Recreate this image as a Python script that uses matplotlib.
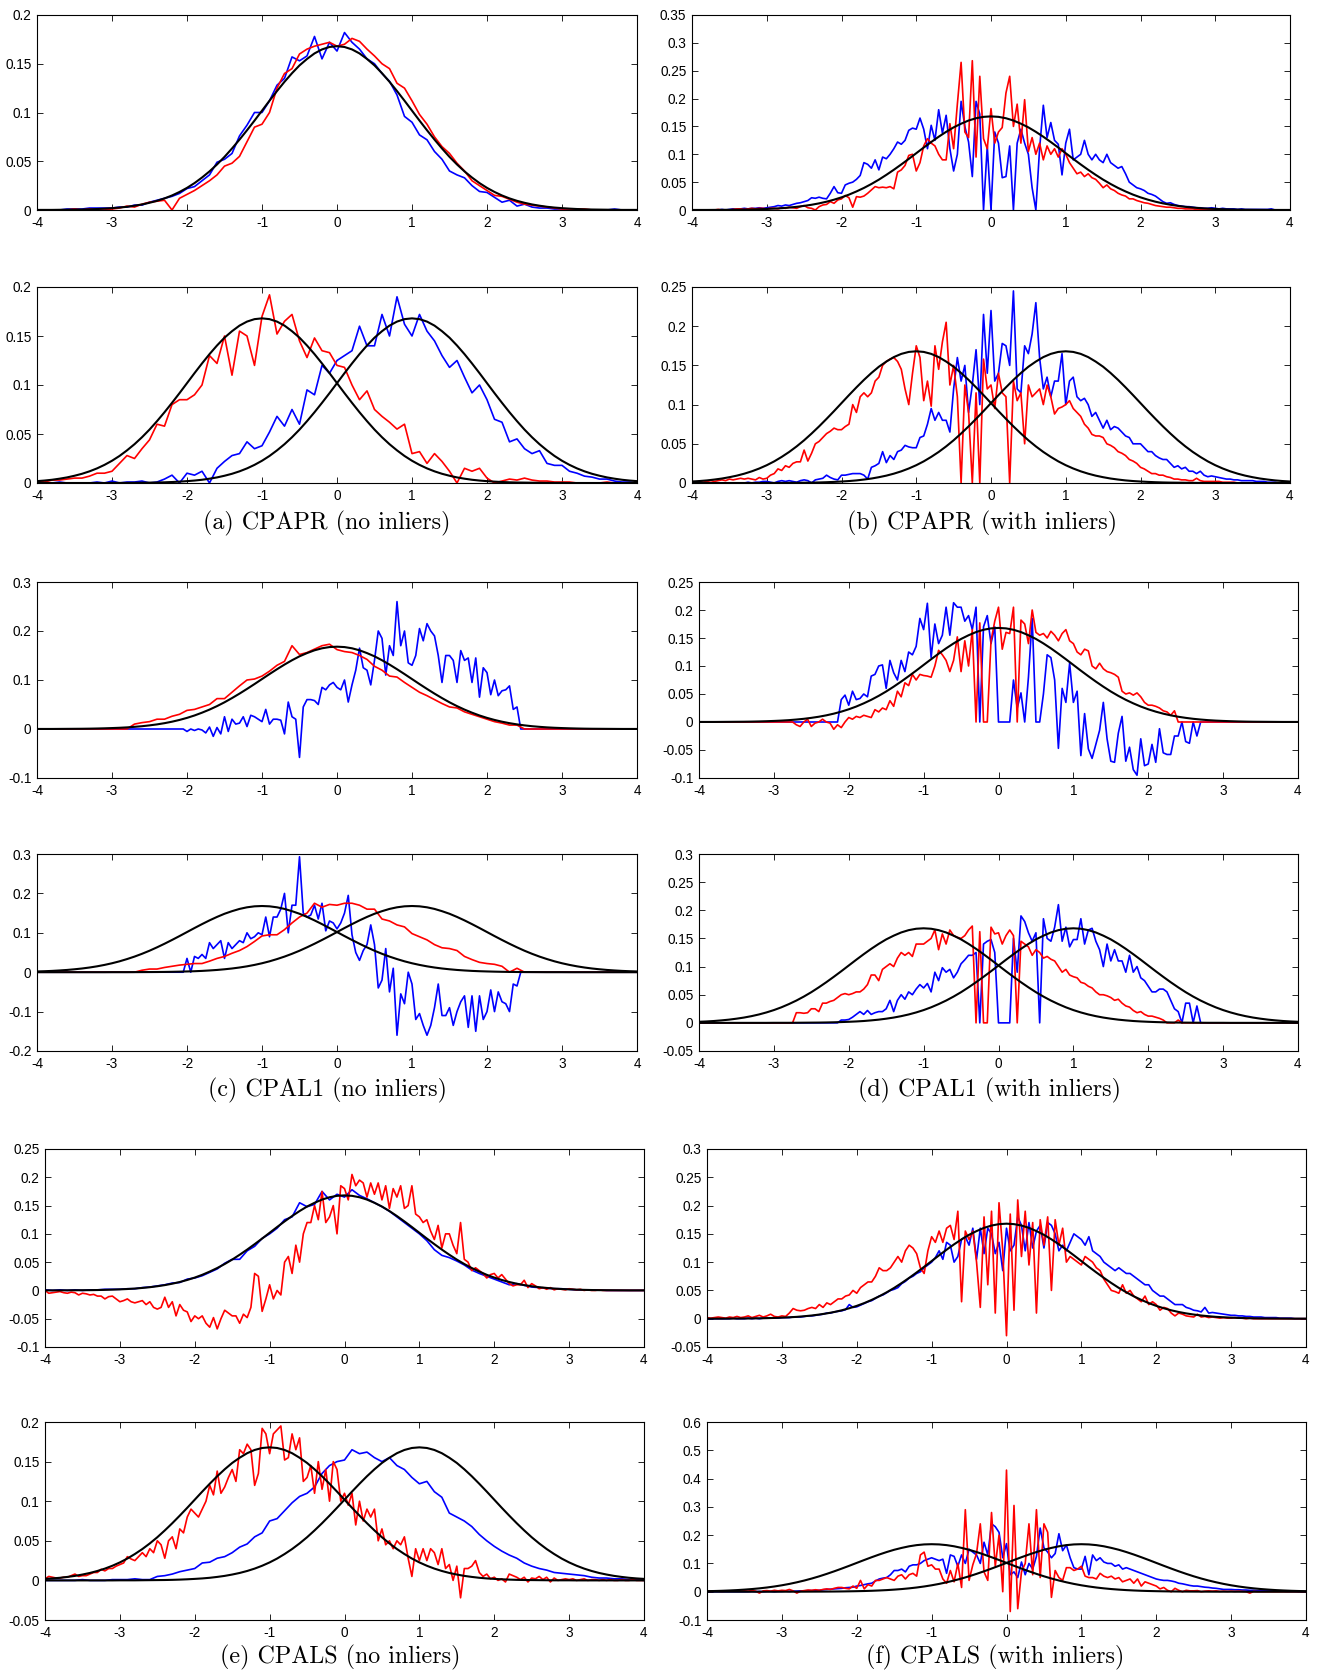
import numpy as np
import matplotlib
matplotlib.use("Agg")
import matplotlib.pyplot as plt

plt.rcParams["axes.unicode_minus"] = False
plt.rcParams["font.family"] = ["Liberation Sans", "DejaVu Sans"]

# ---------------- reference (true) profiles, x = -4..4 step 0.1 ----------------
REF_MID = [0.0001, 0.0001, 0.0001, 0.0002, 0.0003, 0.0004, 0.0005, 0.0007, 0.001, 0.0014,
           0.0019, 0.0025, 0.0033, 0.0044, 0.0057, 0.0074, 0.0094, 0.0119, 0.0149, 0.0185,
           0.0227, 0.0276, 0.0333, 0.0396, 0.0467, 0.0545, 0.0631, 0.0722, 0.0818, 0.0917,
           0.1019, 0.1121, 0.122, 0.1315, 0.1403, 0.1483, 0.1549, 0.1606, 0.1647, 0.1672,
           0.168, 0.1672, 0.1647, 0.1606, 0.1549, 0.1483, 0.1403, 0.1315, 0.122, 0.1121,
           0.1019, 0.0917, 0.0818, 0.0722, 0.0631, 0.0545, 0.0467, 0.0396, 0.0333, 0.0276,
           0.0227, 0.0185, 0.0149, 0.0119, 0.0094, 0.0074, 0.0057, 0.0044, 0.0033, 0.0025,
           0.0019, 0.0014, 0.001, 0.0007, 0.0005, 0.0004, 0.0003, 0.0002, 0.0001, 0.0001, 0.0001]
REF_LEFT = [0.0019, 0.0025, 0.0033, 0.0044, 0.0057, 0.0074, 0.0094, 0.0119, 0.0149, 0.0185,
            0.0227, 0.0276, 0.0333, 0.0396, 0.0467, 0.0545, 0.0631, 0.0722, 0.0818, 0.0917,
            0.1019, 0.1121, 0.122, 0.1315, 0.1403, 0.1483, 0.1549, 0.1606, 0.1647, 0.1672,
            0.168, 0.1672, 0.1647, 0.1606, 0.1549, 0.1483, 0.1403, 0.1315, 0.122, 0.1121,
            0.1019, 0.0917, 0.0818, 0.0722, 0.0631, 0.0545, 0.0467, 0.0396, 0.0333, 0.0276,
            0.0227, 0.0185, 0.0149, 0.0119, 0.0094, 0.0074, 0.0057, 0.0044, 0.0033, 0.0025,
            0.0019, 0.0014, 0.001, 0.0007, 0.0005, 0.0004, 0.0003, 0.0002, 0.0001, 0.0001,
            0.0001, 0, 0, 0, 0, 0, 0, 0, 0, 0, 0]
REF_RIGHT = [0, 0, 0, 0, 0, 0, 0, 0, 0, 0,
             0.0001, 0.0001, 0.0001, 0.0002, 0.0003, 0.0004, 0.0005, 0.0007, 0.001, 0.0014,
             0.0019, 0.0025, 0.0033, 0.0044, 0.0057, 0.0074, 0.0094, 0.0119, 0.0149, 0.0185,
             0.0227, 0.0276, 0.0333, 0.0396, 0.0467, 0.0545, 0.0631, 0.0722, 0.0818, 0.0917,
             0.1019, 0.1121, 0.122, 0.1315, 0.1403, 0.1483, 0.1549, 0.1606, 0.1647, 0.1672,
             0.168, 0.1672, 0.1647, 0.1606, 0.1549, 0.1483, 0.1403, 0.1315, 0.122, 0.1121,
             0.1019, 0.0917, 0.0818, 0.0722, 0.0631, 0.0545, 0.0467, 0.0396, 0.0333, 0.0276,
             0.0227, 0.0185, 0.0149, 0.0119, 0.0094, 0.0074, 0.0057, 0.0044, 0.0033, 0.0025, 0.0019]

# ---------------- (a) CPAPR, no inliers ----------------
A1_BLUE = [0, 0, 0, 0, 0.001, 0.001, 0.001, 0.002, 0.002, 0.002,
           0.002, 0.003, 0.003, 0.005, 0.005, 0.008, 0.010, 0.012, 0.014, 0.017,
           0.022, 0.024, 0.030, 0.036, 0.049, 0.052, 0.058, 0.076, 0.087, 0.100,
           0.100, 0.112, 0.128, 0.135, 0.157, 0.153, 0.158, 0.178, 0.155, 0.172,
           0.163, 0.182, 0.172, 0.165, 0.155, 0.150, 0.140, 0.132, 0.118, 0.096,
           0.090, 0.077, 0.072, 0.060, 0.052, 0.040, 0.036, 0.033, 0.025, 0.019,
           0.018, 0.013, 0.008, 0.010, 0.004, 0.006, 0.003, 0.002, 0.002, 0.001,
           0.001, 0, 0, 0, 0, 0, 0, 0.001, 0, 0, 0]
A1_RED = [0, 0, 0, 0, 0, 0.001, 0, 0.001, 0, 0,
          0.001, 0.002, 0.004, 0.003, 0.006, 0.008, 0.009, 0.010, 0.0, 0.012,
          0.016, 0.020, 0.025, 0.030, 0.036, 0.045, 0.048, 0.055, 0.070, 0.085,
          0.088, 0.100, 0.125, 0.140, 0.145, 0.160, 0.165, 0.168, 0.170, 0.172,
          0.168, 0.170, 0.176, 0.173, 0.165, 0.158, 0.150, 0.145, 0.130, 0.125,
          0.112, 0.098, 0.088, 0.075, 0.065, 0.058, 0.048, 0.040, 0.030, 0.025,
          0.020, 0.015, 0.014, 0.011, 0.008, 0.006, 0.005, 0.004, 0.003, 0.002,
          0.001, 0.001, 0.001, 0.001, 0, 0, 0, 0, 0, 0, 0]
A3_RED = [0.002, 0.001, 0.003, 0.003, 0.004, 0.005, 0.005, 0.007, 0.010, 0.010,
          0.012, 0.020, 0.028, 0.025, 0.035, 0.044, 0.060, 0.058, 0.080, 0.085,
          0.085, 0.090, 0.100, 0.130, 0.122, 0.150, 0.110, 0.155, 0.150, 0.120,
          0.170, 0.192, 0.152, 0.165, 0.172, 0.145, 0.128, 0.148, 0.135, 0.133,
          0.120, 0.118, 0.100, 0.085, 0.094, 0.075, 0.068, 0.062, 0.055, 0.060,
          0.030, 0.032, 0.020, 0.030, 0.022, 0.012, 0.0, 0.015, 0.012, 0.015,
          0.005, 0.0, 0.002, 0.004, 0.003, 0.005, 0.003, 0.002, 0.002, 0.001,
          0.001, 0.001, 0, 0, 0, 0, 0.001, 0, 0, 0, 0]
A3_BLUE = [0, 0, 0, 0.001, 0, 0, 0, 0, 0.001, 0,
           0.002, 0, 0.001, 0.001, 0.002, 0, 0.001, 0.004, 0.008, 0.0,
           0.010, 0.008, 0.012, 0.0, 0.015, 0.022, 0.028, 0.030, 0.042, 0.035,
           0.038, 0.052, 0.068, 0.058, 0.075, 0.060, 0.095, 0.090, 0.120, 0.112,
           0.125, 0.130, 0.135, 0.160, 0.140, 0.140, 0.172, 0.150, 0.190, 0.162,
           0.150, 0.172, 0.155, 0.145, 0.130, 0.118, 0.125, 0.108, 0.092, 0.100,
           0.085, 0.065, 0.062, 0.042, 0.045, 0.035, 0.030, 0.033, 0.020, 0.018,
           0.018, 0.012, 0.010, 0.007, 0.006, 0.004, 0.004, 0.002, 0.001, 0.001, 0]

# ---------------- (b) CPAPR, with inliers (x step 0.05) ----------------
A2_BLUE = [0, 0, 0, 0, 0, 0, 0, 0, 0.001, 0, 0.001, 0.002, 0.001, 0.002, 0.003, 0.002, 0.003, 0.003, 0.004, 0.003,
           0.004, 0.005, 0.006, 0.008, 0.007, 0.009, 0.008, 0.010, 0.012, 0.013, 0.015, 0.017, 0.022, 0.021, 0.023, 0.021, 0.020, 0.030, 0.042, 0.031,
           0.030, 0.045, 0.048, 0.050, 0.055, 0.062, 0.085, 0.082, 0.075, 0.090, 0.072, 0.095, 0.092, 0.100, 0.110, 0.122, 0.118, 0.125, 0.143, 0.147,
           0.145, 0.165, 0.145, 0.110, 0.152, 0.125, 0.180, 0.138, 0.170, 0.110, 0.070, 0.100, 0.195, 0.150, 0.122, 0.060, 0.195, 0.172, 0.0, 0.115,
           0.0, 0.140, 0.120, 0.058, 0.060, 0.115, 0.0, 0.120, 0.145, 0.120, 0.100, 0.040, 0.0, 0.110, 0.188, 0.130, 0.157, 0.125, 0.118, 0.063,
           0.120, 0.145, 0.090, 0.095, 0.100, 0.125, 0.100, 0.090, 0.100, 0.090, 0.085, 0.100, 0.085, 0.080, 0.075, 0.078, 0.065, 0.050, 0.045, 0.040,
           0.038, 0.035, 0.030, 0.028, 0.025, 0.020, 0.015, 0.012, 0.013, 0.010, 0.008, 0.007, 0.006, 0.006, 0.005, 0.004, 0.004, 0.003, 0.003, 0.004,
           0.003, 0.002, 0.003, 0.002, 0.002, 0.002, 0.001, 0.002, 0.001, 0.001, 0.001, 0.001, 0.001, 0.001, 0.001, 0.002, 0, 0, 0, 0, 0]
A2_RED = [0, 0, 0, 0, 0, 0, 0, 0.001, 0, 0, 0, 0.001, 0.002, 0.002, 0.001, 0.002, 0.003, 0.002, 0.003, 0.003,
          0.002, 0.003, 0.003, 0.002, 0.004, 0.003, 0.005, 0.004, 0.003, 0.006, 0.008, 0.004, 0.003, 0.0, 0.006, 0.009, 0.010, 0.015, 0.012, 0.018,
          0.020, 0.026, 0.022, 0.005, 0.024, 0.023, 0.025, 0.030, 0.036, 0.042, 0.040, 0.041, 0.040, 0.042, 0.038, 0.068, 0.072, 0.080, 0.098, 0.100,
          0.070, 0.085, 0.115, 0.128, 0.120, 0.115, 0.100, 0.090, 0.090, 0.155, 0.110, 0.190, 0.265, 0.140, 0.130, 0.268, 0.095, 0.240, 0.128, 0.110,
          0.182, 0.120, 0.140, 0.148, 0.210, 0.240, 0.150, 0.190, 0.120, 0.198, 0.105, 0.130, 0.100, 0.120, 0.090, 0.115, 0.100, 0.110, 0.095, 0.110,
          0.100, 0.085, 0.075, 0.065, 0.068, 0.060, 0.065, 0.058, 0.055, 0.048, 0.040, 0.045, 0.038, 0.035, 0.030, 0.027, 0.025, 0.020, 0.020, 0.017,
          0.015, 0.013, 0.012, 0.010, 0.008, 0.007, 0.006, 0.005, 0.005, 0.004, 0.003, 0.003, 0.002, 0.002, 0.002, 0.001, 0.001, 0.001, 0.001, 0.001,
          0.001, 0.001, 0, 0, 0, 0, 0, 0, 0, 0, 0, 0, 0, 0, 0, 0, 0, 0, 0, 0, 0]
A4_RED = [0.002, 0.001, 0.002, 0.001, 0.002, 0.003, 0.002, 0.003, 0.004, 0.003, 0.005, 0.004, 0.005, 0.006, 0.005, 0.006, 0.005, 0.004, 0.007, 0.005,
          0.006, 0.010, 0.012, 0.018, 0.016, 0.022, 0.020, 0.025, 0.027, 0.027, 0.042, 0.028, 0.038, 0.050, 0.053, 0.058, 0.063, 0.066, 0.070, 0.068,
          0.068, 0.072, 0.075, 0.100, 0.090, 0.110, 0.115, 0.110, 0.115, 0.130, 0.135, 0.150, 0.155, 0.158, 0.160, 0.155, 0.145, 0.120, 0.100, 0.140,
          0.175, 0.160, 0.105, 0.130, 0.098, 0.175, 0.145, 0.180, 0.205, 0.125, 0.150, 0.110, 0.0, 0.125, 0.090, 0.0, 0.115, 0.0, 0.158, 0.120,
          0.125, 0.095, 0.140, 0.115, 0.110, 0.0, 0.130, 0.105, 0.115, 0.050, 0.125, 0.110, 0.115, 0.120, 0.100, 0.125, 0.110, 0.088, 0.095, 0.097,
          0.100, 0.105, 0.095, 0.090, 0.085, 0.075, 0.070, 0.062, 0.060, 0.060, 0.058, 0.050, 0.048, 0.045, 0.040, 0.038, 0.035, 0.030, 0.028, 0.025,
          0.020, 0.018, 0.015, 0.012, 0.012, 0.010, 0.010, 0.008, 0.007, 0.005, 0.005, 0.004, 0.004, 0.003, 0.003, 0.006, 0.003, 0.002, 0.002, 0.002,
          0.002, 0.002, 0.001, 0.001, 0.001, 0.001, 0, 0, 0, 0, 0, 0, 0, 0, 0, 0, 0, 0, 0, 0, 0]
A4_BLUE = [0, 0, 0, 0, 0, 0, 0, 0, 0, 0, 0, 0, 0, 0, 0, 0.001, 0, 0.001, 0.001, 0.002,
           0.002, 0.001, 0.0, 0.002, 0.003, 0.002, 0.003, 0.002, 0.001, 0.003, 0.004, 0.003, 0.0, 0.004, 0.005, 0.006, 0.010, 0.007, 0.005, 0.004,
           0.010, 0.010, 0.011, 0.012, 0.012, 0.012, 0.010, 0.005, 0.020, 0.022, 0.025, 0.040, 0.026, 0.035, 0.030, 0.040, 0.042, 0.048, 0.046, 0.045,
           0.045, 0.058, 0.060, 0.075, 0.095, 0.080, 0.090, 0.080, 0.080, 0.065, 0.120, 0.160, 0.130, 0.150, 0.090, 0.125, 0.170, 0.100, 0.215, 0.140,
           0.220, 0.130, 0.140, 0.178, 0.175, 0.150, 0.245, 0.120, 0.115, 0.175, 0.165, 0.190, 0.230, 0.160, 0.120, 0.135, 0.110, 0.130, 0.130, 0.165,
           0.100, 0.130, 0.135, 0.110, 0.105, 0.108, 0.100, 0.085, 0.090, 0.080, 0.070, 0.080, 0.068, 0.072, 0.070, 0.065, 0.060, 0.058, 0.050, 0.050,
           0.050, 0.045, 0.040, 0.040, 0.035, 0.032, 0.030, 0.030, 0.025, 0.020, 0.022, 0.018, 0.020, 0.015, 0.015, 0.012, 0.015, 0.010, 0.008, 0.009,
           0.008, 0.007, 0.006, 0.005, 0.005, 0.004, 0.004, 0.003, 0.003, 0.003, 0.003, 0.002, 0.002, 0.002, 0.001, 0.001, 0.001, 0, 0, 0, 0]

# ---------------- (c) CPAL1, no inliers ----------------
C1_RED = [0, 0, 0, 0, 0, 0, 0, 0, 0, 0,
          0, 0, 0, 0.010, 0.013, 0.015, 0.020, 0.020, 0.026, 0.030,
          0.038, 0.040, 0.045, 0.050, 0.062, 0.062, 0.075, 0.088, 0.100, 0.102,
          0.108, 0.118, 0.130, 0.138, 0.170, 0.152, 0.156, 0.163, 0.170, 0.173,
          0.162, 0.158, 0.156, 0.150, 0.142, 0.128, 0.120, 0.108, 0.106, 0.095,
          0.085, 0.075, 0.068, 0.060, 0.052, 0.045, 0.043, 0.035, 0.030, 0.025,
          0.020, 0.015, 0.012, 0.008, 0.008, 0, 0, 0, 0, 0,
          0, 0, 0, 0, 0, 0, 0, 0, 0, 0, 0]
C1_BLUE = [0] * 20 + [0] * 20 + [
           -0.005, 0.0, -0.003, 0.0, -0.002, -0.008, 0.004, -0.015, 0.003, -0.010, 0.025, -0.005, 0.020, 0.010, 0.012, 0.025, 0.005, 0.028, 0.025, 0.020,
           0.015, 0.040, 0.010, 0.020, 0.020, 0.018, -0.010, 0.055, 0.025, 0.020, -0.058, 0.045, 0.060, 0.060, 0.058, 0.050, 0.085, 0.080, 0.090, 0.095,
           0.085, 0.080, 0.100, 0.055, 0.090, 0.120, 0.165, 0.125, 0.120, 0.090, 0.140, 0.200, 0.185, 0.110, 0.170, 0.150, 0.260, 0.170, 0.200, 0.135,
           0.130, 0.150, 0.205, 0.180, 0.215, 0.200, 0.190, 0.150, 0.095, 0.150, 0.150, 0.140, 0.095, 0.160, 0.140, 0.145, 0.095, 0.145, 0.065, 0.125,
           0.115, 0.070, 0.100, 0.068, 0.078, 0.080, 0.088, 0.040, 0.045, 0.0, 0, 0, 0, 0, 0, 0, 0, 0, 0, 0] + [0] * 21
C3_RED = [0, 0, 0, 0, 0, 0, 0, 0, 0, 0,
          0, 0, 0, 0, 0.005, 0.008, 0.008, 0.012, 0.015, 0.018,
          0.020, 0.022, 0.022, 0.028, 0.035, 0.040, 0.048, 0.055, 0.065, 0.078,
          0.092, 0.095, 0.095, 0.108, 0.125, 0.140, 0.150, 0.175, 0.165, 0.172,
          0.170, 0.175, 0.175, 0.170, 0.160, 0.160, 0.135, 0.130, 0.120, 0.115,
          0.098, 0.090, 0.082, 0.070, 0.062, 0.060, 0.055, 0.040, 0.032, 0.025,
          0.022, 0.020, 0.015, 0.0, 0.010, 0, 0, 0, 0, 0,
          0, 0, 0, 0, 0, 0, 0, 0, 0, 0, 0]
C3_BLUE = [0] * 20 + [0] * 20 + [
           0.035, 0.0, 0.040, 0.035, 0.045, 0.035, 0.075, 0.060, 0.070, 0.080, 0.035, 0.075, 0.060, 0.070, 0.080, 0.075, 0.100, 0.085, 0.090, 0.100,
           0.095, 0.140, 0.090, 0.140, 0.140, 0.160, 0.200, 0.100, 0.170, 0.170, 0.293, 0.150, 0.140, 0.145, 0.170, 0.135, 0.175, 0.105, 0.130, 0.125,
           0.110, 0.125, 0.150, 0.195, 0.095, 0.050, 0.030, 0.055, 0.070, 0.120, 0.070, -0.040, -0.020, 0.060, -0.050, 0.010, -0.160, -0.055, -0.080, 0.0,
           -0.030, -0.120, -0.105, -0.135, -0.160, -0.135, -0.090, -0.030, -0.110, -0.110, -0.090, -0.135, -0.100, -0.075, -0.060, -0.140, -0.060, -0.150, -0.060, -0.120,
           -0.100, -0.045, -0.100, -0.050, -0.075, -0.080, -0.100, -0.030, -0.035, 0.0, 0, 0, 0, 0, 0, 0, 0, 0, 0, 0] + [0] * 21

# ---------------- (d) CPAL1, with inliers (x step 0.05) ----------------
C2_RED = [0] * 20 + [
          0, 0, 0, 0, 0, 0, -0.005, -0.008, 0.0, 0.005, -0.008, -0.002, 0.0, 0.005, 0.0, -0.002, -0.013, -0.005, -0.010, 0.0,
          0.008, 0.005, 0.010, 0.008, 0.012, 0.010, 0.008, 0.022, 0.018, 0.025, 0.022, 0.038, 0.028, 0.055, 0.045, 0.070, 0.065, 0.085, 0.075, 0.085,
          0.083, 0.082, 0.080, 0.100, 0.128, 0.120, 0.110, 0.090, 0.110, 0.152, 0.090, 0.145, 0.100, 0.165, 0.0, 0.177, 0.0, 0.0, 0.145, 0.180,
          0.205, 0.130, 0.160, 0.158, 0.205, 0.0, 0.182, 0.175, 0.140, 0.200, 0.160, 0.155, 0.158, 0.150, 0.162, 0.155, 0.145, 0.158, 0.165, 0.145,
          0.140, 0.125, 0.120, 0.130, 0.127, 0.100, 0.095, 0.105, 0.095, 0.090, 0.088, 0.085, 0.080, 0.055, 0.050, 0.052, 0.048, 0.052, 0.045, 0.035,
          0.030, 0.030, 0.028, 0.025, 0.020, 0.018, 0.012, 0.020, 0.0, 0, 0, 0, 0, 0, 0, 0, 0, 0, 0, 0] + [0] * 21
C2_BLUE = [0] * 20 + [0] * 18 + [0.040, 0.048] + [
           0.030, 0.055, 0.040, 0.042, 0.050, 0.045, 0.082, 0.085, 0.100, 0.102, 0.060, 0.110, 0.088, 0.075, 0.110, 0.090, 0.125, 0.120, 0.135, 0.185,
           0.165, 0.212, 0.115, 0.175, 0.140, 0.155, 0.205, 0.155, 0.213, 0.205, 0.205, 0.180, 0.190, 0.165, 0.205, 0.0, 0.170, 0.190, 0.140, 0.170,
           0.0, 0.0, 0.0, 0.0, 0.075, 0.025, 0.052, 0.0, 0.080, 0.185, 0.0, 0.0, 0.050, 0.120, 0.115, 0.075, -0.047, 0.060, 0.035, 0.105,
           0.035, 0.055, -0.060, 0.015, -0.048, -0.065, -0.040, -0.015, 0.035, -0.030, -0.070, -0.072, -0.020, 0.010, -0.070, -0.045, -0.085, -0.095, -0.030, -0.078,
           -0.075, -0.040, -0.072, -0.012, -0.055, -0.058, -0.058, -0.025, -0.025, 0.0, -0.035, -0.038, 0.0, -0.025, 0.0, 0, 0, 0, 0, 0] + [0] * 21
C4_RED = [0] * 20 + [
          0, 0, 0, 0, 0, 0, 0.018, 0.018, 0.017, 0.018, 0.025, 0.025, 0.020, 0.035, 0.035, 0.038, 0.040, 0.045, 0.050, 0.052,
          0.050, 0.052, 0.055, 0.055, 0.060, 0.068, 0.085, 0.085, 0.075, 0.095, 0.100, 0.105, 0.100, 0.115, 0.125, 0.120, 0.125, 0.118, 0.140, 0.140,
          0.140, 0.145, 0.150, 0.165, 0.130, 0.158, 0.140, 0.165, 0.155, 0.152, 0.150, 0.155, 0.165, 0.172, 0.0, 0.162, 0.0, 0.0, 0.170, 0.158,
          0.160, 0.140, 0.155, 0.165, 0.155, 0.0, 0.145, 0.140, 0.135, 0.120, 0.130, 0.125, 0.115, 0.118, 0.113, 0.110, 0.100, 0.090, 0.095, 0.085,
          0.082, 0.080, 0.072, 0.070, 0.065, 0.062, 0.055, 0.050, 0.050, 0.048, 0.045, 0.040, 0.042, 0.035, 0.030, 0.028, 0.022, 0.018, 0.020, 0.015,
          0.012, 0.012, 0.010, 0.008, 0.005, 0.0, 0.0, 0.0, 0.005, 0.0, 0, 0, 0, 0, 0, 0, 0, 0, 0, 0] + [0] * 21
C4_BLUE = [0] * 20 + [0] * 18 + [0.005, 0.005] + [
           0.006, 0.010, 0.015, 0.020, 0.015, 0.022, 0.015, 0.018, 0.020, 0.020, 0.025, 0.040, 0.020, 0.040, 0.050, 0.042, 0.055, 0.050, 0.060, 0.068,
           0.062, 0.070, 0.055, 0.090, 0.075, 0.098, 0.090, 0.095, 0.080, 0.090, 0.105, 0.112, 0.120, 0.120, 0.125, 0.0, 0.140, 0.145, 0.148, 0.125,
           0.0, 0.0, 0.0, 0.0, 0.150, 0.090, 0.190, 0.180, 0.160, 0.145, 0.160, 0.0, 0.185, 0.150, 0.145, 0.170, 0.210, 0.145, 0.170, 0.135,
           0.148, 0.148, 0.185, 0.140, 0.165, 0.168, 0.145, 0.130, 0.100, 0.140, 0.110, 0.130, 0.110, 0.110, 0.090, 0.120, 0.090, 0.100, 0.080, 0.075,
           0.065, 0.055, 0.055, 0.060, 0.060, 0.055, 0.040, 0.025, 0.020, 0.0, 0.035, 0.035, 0.0, 0.030, 0.0, 0, 0, 0, 0, 0] + [0] * 21

# ---------------- (e) CPALS, no inliers ----------------
E1_BLUE = [0.001, 0.0, 0.001, 0.0, 0.001, 0.0, 0.001, 0.001, 0.002, 0.002,
           0.002, 0.003, 0.003, 0.005, 0.006, 0.008, 0.010, 0.013, 0.014, 0.020,
           0.022, 0.026, 0.032, 0.038, 0.048, 0.055, 0.055, 0.070, 0.078, 0.092,
           0.100, 0.110, 0.125, 0.130, 0.155, 0.148, 0.152, 0.175, 0.160, 0.170,
           0.165, 0.178, 0.168, 0.162, 0.155, 0.148, 0.140, 0.130, 0.120, 0.110,
           0.100, 0.088, 0.072, 0.062, 0.058, 0.052, 0.045, 0.036, 0.030, 0.025,
           0.020, 0.015, 0.010, 0.012, 0.009, 0.006, 0.005, 0.004, 0.003, 0.003,
           0.002, 0.001, 0.001, 0.001, 0.001, 0, 0, 0, 0, 0, 0]
E1_RED = [0.0, -0.005, -0.004, -0.003, -0.002, -0.004, -0.005, -0.003, -0.004, -0.008, -0.005, -0.006, -0.008, -0.007, -0.010, -0.010, -0.015, -0.011, -0.010, -0.015,
          -0.020, -0.018, -0.015, -0.020, -0.022, -0.020, -0.018, -0.025, -0.020, -0.030, -0.033, -0.030, -0.012, -0.030, -0.020, -0.045, -0.025, -0.035, -0.038, -0.055,
          -0.045, -0.050, -0.045, -0.058, -0.065, -0.048, -0.068, -0.050, -0.035, -0.040, -0.045, -0.045, -0.058, -0.042, -0.048, -0.030, 0.030, 0.025, -0.037, -0.015,
          0.010, -0.015, 0.0, -0.008, 0.050, 0.060, 0.030, 0.080, 0.050, 0.100, 0.120, 0.120, 0.150, 0.125, 0.175, 0.120, 0.130, 0.150, 0.100, 0.185,
          0.180, 0.160, 0.205, 0.185, 0.195, 0.190, 0.165, 0.190, 0.170, 0.190, 0.160, 0.185, 0.145, 0.180, 0.165, 0.185, 0.145, 0.150, 0.185, 0.135,
          0.130, 0.120, 0.125, 0.105, 0.090, 0.115, 0.075, 0.100, 0.100, 0.080, 0.065, 0.120, 0.055, 0.050, 0.035, 0.040, 0.035, 0.030, 0.022, 0.028,
          0.030, 0.022, 0.028, 0.020, 0.012, 0.008, 0.010, 0.010, 0.018, 0.005, 0.012, 0.008, 0.003, 0.005, 0.002, 0.005, 0.001, 0.003, 0.002, 0.001,
          0.003, 0.002, 0.001, 0.002, 0.0, 0.001, 0.0, 0.0, 0.001, 0.0, 0, 0, 0, 0, 0, 0, 0, 0, 0, 0, 0]
E3_BLUE = [0, 0, 0, 0, 0, 0.001, 0, 0, 0, 0.001,
           0.001, 0.001, 0.002, 0.001, 0.001, 0.005, 0.006, 0.008, 0.011, 0.013,
           0.015, 0.022, 0.023, 0.028, 0.030, 0.035, 0.042, 0.046, 0.055, 0.060,
           0.075, 0.078, 0.088, 0.098, 0.106, 0.110, 0.118, 0.135, 0.145, 0.150,
           0.152, 0.165, 0.160, 0.162, 0.155, 0.150, 0.155, 0.145, 0.140, 0.130,
           0.122, 0.125, 0.112, 0.105, 0.085, 0.080, 0.075, 0.068, 0.058, 0.050,
           0.043, 0.037, 0.032, 0.028, 0.022, 0.018, 0.015, 0.013, 0.010, 0.009,
           0.008, 0.007, 0.006, 0.004, 0.003, 0.003, 0.002, 0.002, 0.001, 0.001, 0.0]
E3_RED = [0.002, 0.005, 0.004, 0.003, 0.003, 0.004, 0.004, 0.006, 0.008, 0.005, 0.006, 0.006, 0.008, 0.010, 0.010, 0.014, 0.012, 0.015, 0.015, 0.018,
          0.020, 0.022, 0.030, 0.027, 0.025, 0.030, 0.035, 0.030, 0.040, 0.035, 0.050, 0.045, 0.028, 0.050, 0.055, 0.040, 0.065, 0.060, 0.080, 0.090,
          0.085, 0.080, 0.090, 0.100, 0.120, 0.108, 0.138, 0.110, 0.118, 0.130, 0.140, 0.125, 0.165, 0.160, 0.172, 0.165, 0.120, 0.135, 0.192, 0.185,
          0.160, 0.185, 0.190, 0.195, 0.152, 0.155, 0.185, 0.165, 0.180, 0.125, 0.130, 0.145, 0.110, 0.150, 0.115, 0.140, 0.100, 0.150, 0.140, 0.100,
          0.110, 0.095, 0.110, 0.070, 0.100, 0.075, 0.090, 0.080, 0.090, 0.050, 0.065, 0.045, 0.050, 0.040, 0.050, 0.045, 0.055, 0.028, 0.005, 0.040,
          0.025, 0.040, 0.025, 0.040, 0.035, 0.020, 0.040, 0.015, 0.020, 0.0, 0.018, -0.022, 0.015, 0.015, 0.018, 0.025, 0.010, 0.005, 0.008, 0.002,
          0.004, 0.0, 0.002, -0.002, 0.008, 0.006, 0.004, 0.001, 0.004, -0.002, 0.003, 0.002, 0.005, 0.001, 0.004, -0.002, 0.003, 0.0, 0.001, 0.002,
          0.001, 0.002, 0.0, 0.001, 0.002, 0.0, 0.001, 0.001, 0.0, 0.001, 0.0, 0.001, 0.0, 0.0, 0.001, 0.0, 0.0, 0.001, 0.0, 0.0, 0.0]

# ---------------- (f) CPALS, with inliers (x step 0.05) ----------------
E2_BLUE = [0.0, 0.0, 0.0, 0.0, 0.0, 0.0, 0.0, 0.001, 0.0, 0.0, 0.0, 0.001, 0.0, 0.001, 0.0, 0.001, 0.001, 0.001, 0.001, 0.001,
           0.002, 0.002, 0.002, 0.003, 0.003, 0.003, 0.004, 0.005, 0.005, 0.006, 0.007, 0.008, 0.010, 0.010, 0.012, 0.013, 0.014, 0.016, 0.025, 0.020,
           0.021, 0.024, 0.027, 0.030, 0.032, 0.036, 0.040, 0.042, 0.046, 0.050, 0.052, 0.055, 0.062, 0.066, 0.072, 0.075, 0.080, 0.083, 0.090, 0.095,
           0.100, 0.108, 0.120, 0.105, 0.135, 0.130, 0.100, 0.110, 0.140, 0.145, 0.130, 0.160, 0.105, 0.160, 0.115, 0.160, 0.150, 0.115, 0.135, 0.085,
           0.160, 0.120, 0.130, 0.180, 0.165, 0.120, 0.170, 0.125, 0.155, 0.165, 0.125, 0.170, 0.165, 0.150, 0.120, 0.130, 0.120, 0.135, 0.150, 0.145,
           0.140, 0.130, 0.145, 0.120, 0.115, 0.110, 0.100, 0.095, 0.090, 0.085, 0.090, 0.085, 0.080, 0.080, 0.075, 0.070, 0.065, 0.060, 0.060, 0.050,
           0.045, 0.040, 0.040, 0.035, 0.030, 0.025, 0.025, 0.025, 0.020, 0.018, 0.015, 0.014, 0.012, 0.020, 0.010, 0.011, 0.010, 0.009, 0.008, 0.007,
           0.006, 0.006, 0.005, 0.005, 0.004, 0.004, 0.003, 0.003, 0.003, 0.002, 0.002, 0.002, 0.002, 0.001, 0.001, 0.001, 0.001, 0.0, 0.0, 0.0, 0.0]
E2_RED = [0.002, 0.001, 0.002, 0.003, 0.002, 0.001, 0.003, 0.002, 0.004, 0.002, 0.003, 0.005, 0.002, 0.004, 0.006, 0.003, 0.005, 0.008, 0.004, 0.003,
          0.005, 0.004, 0.010, 0.018, 0.015, 0.014, 0.015, 0.018, 0.020, 0.018, 0.025, 0.020, 0.028, 0.025, 0.030, 0.035, 0.035, 0.040, 0.042, 0.050,
          0.045, 0.055, 0.060, 0.065, 0.065, 0.075, 0.090, 0.085, 0.085, 0.090, 0.100, 0.110, 0.100, 0.120, 0.130, 0.125, 0.115, 0.090, 0.080, 0.120,
          0.145, 0.135, 0.155, 0.135, 0.160, 0.165, 0.140, 0.190, 0.030, 0.155, 0.140, 0.155, 0.100, 0.020, 0.180, 0.060, 0.190, 0.010, 0.205, 0.120,
          -0.030, 0.185, 0.015, 0.210, 0.110, 0.190, 0.095, 0.170, 0.010, 0.175, 0.130, 0.180, 0.050, 0.175, 0.130, 0.160, 0.100, 0.110, 0.105, 0.100,
          0.095, 0.110, 0.105, 0.100, 0.090, 0.085, 0.070, 0.060, 0.050, 0.048, 0.045, 0.060, 0.045, 0.050, 0.040, 0.035, 0.030, 0.040, 0.025, 0.030,
          0.025, 0.015, 0.020, 0.018, 0.010, 0.005, 0.010, 0.008, 0.005, 0.004, 0.003, 0.008, 0.003, 0.004, 0.002, 0.003, 0.002, 0.001, 0.002, 0.001,
          0.001, 0.002, 0.001, 0.001, 0.0, 0.001, 0, 0, 0, 0, 0, 0, 0, 0, 0, 0, 0, 0, 0, 0, 0]
E4_BLUE = [0, 0, 0, 0, 0, 0, 0, 0, 0, 0, 0, 0, 0.001, 0, 0.001, 0, 0.001, 0.001, 0, 0.001,
           0.001, 0.002, 0.001, 0.002, 0.002, 0.003, 0.003, 0.004, 0.004, 0.005, 0.005, 0.007, 0.008, 0.009, 0.010, 0.011, 0.012, 0.014, 0.015, 0.016,
           0.020, 0.022, 0.025, 0.028, 0.030, 0.038, 0.045, 0.048, 0.050, 0.060, 0.075, 0.075, 0.080, 0.070, 0.090, 0.095, 0.095, 0.100, 0.110, 0.115,
           0.120, 0.115, 0.110, 0.115, 0.065, 0.130, 0.125, 0.090, 0.130, 0.100, 0.150, 0.140, 0.130, 0.100, 0.175, 0.130, 0.240, 0.230, 0.210, 0.120,
           0.170, 0.060, 0.070, 0.050, 0.105, 0.060, 0.100, 0.080, 0.125, 0.225, 0.155, 0.140, 0.120, 0.135, 0.205, 0.145, 0.165, 0.120, 0.085, 0.080,
           0.080, 0.125, 0.060, 0.130, 0.110, 0.120, 0.105, 0.100, 0.100, 0.090, 0.095, 0.080, 0.085, 0.080, 0.075, 0.070, 0.065, 0.060, 0.055, 0.050,
           0.045, 0.042, 0.040, 0.040, 0.038, 0.035, 0.030, 0.028, 0.025, 0.022, 0.020, 0.020, 0.018, 0.016, 0.015, 0.013, 0.012, 0.010, 0.008, 0.008,
           0.008, 0.007, 0.007, 0.006, 0.006, 0.005, 0.005, 0.004, 0.004, 0.003, 0.003, 0.003, 0.002, 0.002, 0.002, 0.001, 0.001, 0.001, 0.0, 0.0, 0.0]
E4_RED = [0.002, 0.001, 0.002, 0.002, 0.001, 0.002, 0.003, 0.002, 0.003, 0.002, 0.003, 0.002, 0.004, 0.002, -0.005, 0.003, 0.004, 0.002, 0.005, 0.003,
          0.005, 0.004, 0.008, 0.003, -0.005, 0.002, 0.004, 0.006, 0.005, 0.007, 0.005, 0.008, 0.010, 0.008, 0.012, 0.015, 0.015, 0.012, 0.010, 0.020,
          0.012, 0.040, 0.010, 0.025, 0.020, 0.040, 0.040, 0.045, 0.050, 0.045, 0.040, 0.055, 0.060, 0.045, 0.060, 0.065, 0.055, 0.130, 0.140, 0.090,
          0.095, 0.080, 0.080, 0.045, 0.030, 0.075, 0.035, 0.100, 0.015, 0.290, 0.040, 0.095, 0.135, 0.240, 0.070, 0.040, 0.280, 0.090, 0.200, 0.0,
          0.430, -0.070, 0.305, -0.060, 0.070, 0.100, 0.240, 0.060, 0.290, 0.050, 0.240, 0.210, -0.020, 0.075, 0.050, 0.040, 0.085, 0.085, 0.075, 0.080,
          0.090, 0.055, 0.050, 0.050, 0.045, 0.065, 0.055, 0.050, 0.055, 0.045, 0.050, 0.035, 0.040, 0.045, 0.030, 0.045, 0.020, 0.035, 0.030, 0.025,
          0.020, 0.010, 0.015, 0.005, 0.0, 0.012, 0.005, 0.0, 0.005, 0.003, 0.003, 0.004, 0.0, 0.002, 0.003, 0.002, 0.003, 0.001, 0.002, 0.001,
          0.002, 0.001, 0.002, 0.001, 0.0, -0.005, 0.001, 0.0, 0.0, 0.0, 0.0, 0, 0, 0, 0, 0, 0, 0, 0, 0, 0]

X_TICKS = [-4, -3, -2, -1, 0, 1, 2, 3, 4]
CAPTIONS = ["(a) CPAPR (no inliers)", "(b) CPAPR (with inliers)",
            "(c) CPAL1 (no inliers)", "(d) CPAL1 (with inliers)",
            "(e) CPALS (no inliers)", "(f) CPALS (with inliers)"]

# ---------------- layout (pixel boxes: left, top, right, bottom) ----------------
W, H = 1322, 1675
panels = [
    (A1_BLUE, A1_RED, [REF_MID], (0, 0.2, 0.05), (37, 15, 637, 210)),
    (A2_BLUE, A2_RED, [REF_MID], (0, 0.35, 0.05), (692, 15, 1290, 210)),
    (A3_BLUE, A3_RED, [REF_LEFT, REF_RIGHT], (0, 0.2, 0.05), (37, 287, 637, 483)),
    (A4_BLUE, A4_RED, [REF_LEFT, REF_RIGHT], (0, 0.25, 0.05), (692, 287, 1290, 483)),
    (C1_BLUE, C1_RED, [REF_MID], (-0.1, 0.3, 0.1), (37, 582, 637, 778)),
    (C2_BLUE, C2_RED, [REF_MID], (-0.1, 0.25, 0.05), (699, 582, 1298, 778)),
    (C3_BLUE, C3_RED, [REF_LEFT, REF_RIGHT], (-0.2, 0.3, 0.1), (37, 854, 637, 1051)),
    (C4_BLUE, C4_RED, [REF_LEFT, REF_RIGHT], (-0.05, 0.3, 0.05), (699, 854, 1298, 1051)),
    (E1_BLUE, E1_RED, [REF_MID], (-0.1, 0.25, 0.05), (45, 1149, 644, 1347)),
    (E2_BLUE, E2_RED, [REF_MID], (-0.05, 0.3, 0.05), (707, 1149, 1306, 1347)),
    (E3_BLUE, E3_RED, [REF_LEFT, REF_RIGHT], (-0.05, 0.2, 0.05), (45, 1422, 644, 1620)),
    (E4_BLUE, E4_RED, [REF_LEFT, REF_RIGHT], (-0.1, 0.6, 0.1), (707, 1422, 1306, 1620)),
]
caption_pos = [(327, 523), (982, 523), (327, 1090), (990, 1090), (340, 1657), (995, 1657)]

fig = plt.figure(figsize=(W / 100, H / 100), dpi=100)


def fmt(v):
    v = round(v, 3) + 0.0
    return f"{v:g}"


for blue, red, refs, (y0, y1, ys), (l, t, r, b) in panels:
    ax = fig.add_axes([l / W, 1 - b / H, (r - l) / W, (b - t) / H])
    ax.plot(np.linspace(-4, 4, len(blue)), blue, color="#0000ff", lw=1.2)
    ax.plot(np.linspace(-4, 4, len(red)), red, color="#ff0000", lw=1.2)
    for ref in refs:
        ax.plot(np.linspace(-4, 4, len(ref)), ref, color="black", lw=1.5)
    ax.set_xlim(-4, 4)
    ax.set_ylim(y0, y1)
    ax.set_xticks(X_TICKS)
    ax.set_xticklabels([str(v) for v in X_TICKS])
    yt = np.arange(y0, y1 + ys / 2, ys)
    ax.set_yticks(yt)
    ax.set_yticklabels([fmt(v) for v in yt])
    ax.tick_params(direction="in", top=True, right=True, length=4, width=0.6,
                   labelsize=9.8, pad=4)
    for s in ax.spines.values():
        s.set_linewidth(0.8)

for text, (cx, cy) in zip(CAPTIONS, caption_pos):
    fig.text(cx / W, 1 - cy / H, text, ha="center", va="center",
             family="cmr10", fontsize=17.3)

fig.savefig("out.png", dpi=100)
